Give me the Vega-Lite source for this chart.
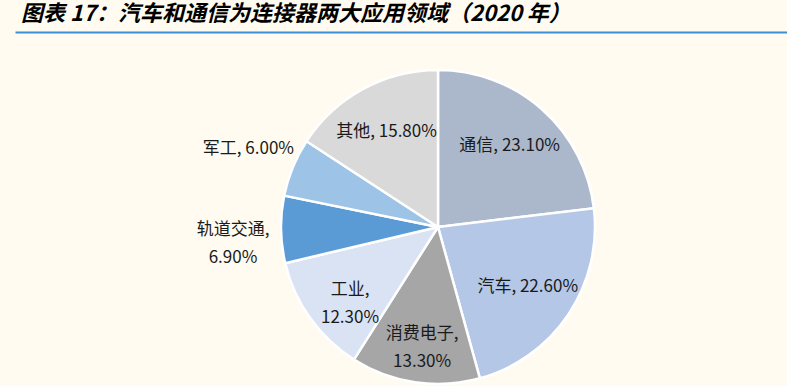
{
  "$schema": "https://vega.github.io/schema/vega-lite/v6.json",
  "width": 846,
  "height": 390,
  "autosize": {"type": "none"},
  "padding": {"left": 15, "top": 32, "right": 0, "bottom": 0},
  "background": "#FFFBF0",
  "config": {"view": {"stroke": null}},
  "title": {
    "text": "图表 17：汽车和通信为连接器两大应用领域（2020 年）",
    "anchor": "start",
    "frame": "group",
    "font": "Noto Sans CJK SC",
    "fontSize": 22,
    "fontStyle": "italic",
    "fontWeight": "bold",
    "color": "#000000",
    "dx": 6,
    "offset": 6
  },
  "data": {
    "values": [
      {"name": "通信", "pct": 23.1, "label": "通信, 23.10%"},
      {"name": "汽车", "pct": 22.6, "label": "汽车, 22.60%"},
      {"name": "消费电子", "pct": 13.3, "label": "消费电子,\n13.30%"},
      {"name": "工业", "pct": 12.3, "label": "工业,\n12.30%"},
      {"name": "轨道交通", "pct": 6.9, "label": "轨道交通,\n6.90%"},
      {"name": "军工", "pct": 6.0, "label": "军工, 6.00%"},
      {"name": "其他", "pct": 15.8, "label": "其他, 15.80%"}
    ]
  },
  "transform": [{"window": [{"op": "row_number", "as": "ord"}]}],
  "layer": [
    {
      "mark": {"type": "rule", "opacity": 0},
      "encoding": {
        "x": {
          "field": "pct",
          "type": "quantitative",
          "axis": {"orient": "top", "domain": true, "domainColor": "#3A8FD6", "domainWidth": 2, "ticks": false, "labels": false, "grid": false, "title": null}
        }
      }
    },
    {
      "mark": {"type": "arc", "outerRadius": 157, "stroke": "#FFFFFF", "strokeWidth": 2.5},
      "encoding": {
        "theta": {"field": "pct", "type": "quantitative", "stack": true},
        "order": {"field": "ord", "type": "quantitative"},
        "color": {
          "field": "name",
          "type": "nominal",
          "scale": {
            "domain": ["通信", "汽车", "消费电子", "工业", "轨道交通", "军工", "其他"],
            "range": ["#ABB8CC", "#B4C7E7", "#A6A6A6", "#DAE3F3", "#5B9BD5", "#9DC3E6", "#D9D9D9"]
          },
          "legend": null
        }
      }
    },
    {
      "mark": {"type": "text", "radius": 108, "font": "Noto Sans CJK SC", "fontSize": 17, "lineBreak": "\n", "lineHeight": 28, "color": "#1A1A1A"},
      "encoding": {
        "theta": {"field": "pct", "type": "quantitative", "stack": true},
        "order": {"field": "ord", "type": "quantitative"},
        "text": {"condition": {"test": "datum.pct >= 10", "field": "label"}, "value": ""}
      }
    },
    {
      "mark": {"type": "text", "radius": 205, "font": "Noto Sans CJK SC", "fontSize": 17, "lineBreak": "\n", "lineHeight": 28, "color": "#1A1A1A"},
      "encoding": {
        "theta": {"field": "pct", "type": "quantitative", "stack": true},
        "order": {"field": "ord", "type": "quantitative"},
        "text": {"condition": {"test": "datum.pct < 10", "field": "label"}, "value": ""}
      }
    }
  ]
}
